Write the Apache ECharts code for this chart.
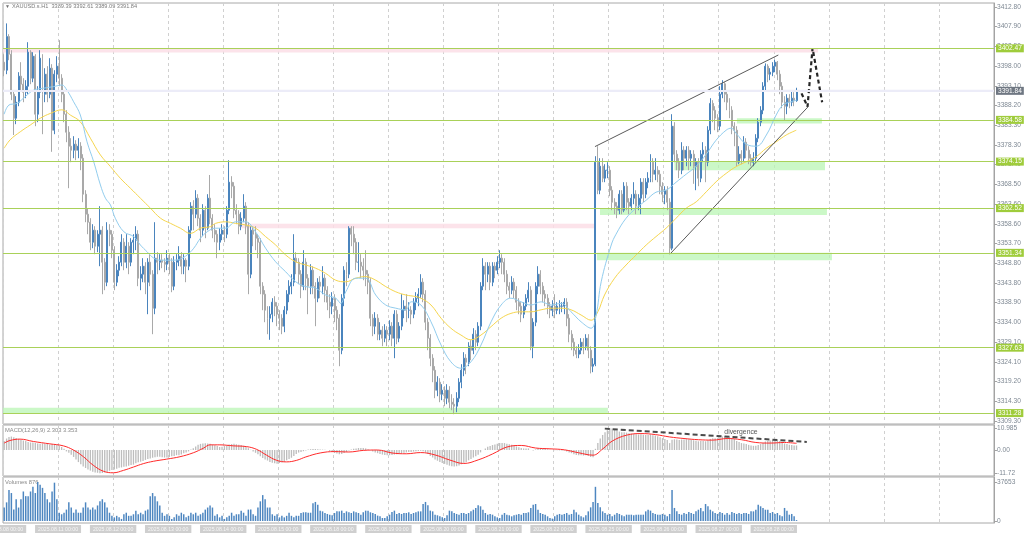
<!DOCTYPE html>
<html><head><meta charset="utf-8">
<script src="https://cdn.jsdelivr.net/npm/echarts@6/dist/echarts.min.js"></script>
<style>html,body{margin:0;padding:0;background:#fff;}#c{width:1024px;height:537px;}</style>
</head><body><div id="c"></div>
<script>
// ---------- DATA ----------
const symbolTitle = 'XAUUSD.s.H1  3389.39 3392.61 3389.09 3391.84';
const macdTitle = 'MACD(12,26,9) 2.303 3.353';
const volumeTitle = 'Volumes 876';
const totalSlots = 414;          // bar slots on the time axis (incl. empty right margin)
const barsPerDay = 23;
const dayLabels = ['2025.08.08 00:00','2025.08.11 00:00','2025.08.12 00:00','2025.08.13 00:00','2025.08.14 00:00','2025.08.15 00:00','2025.08.18 00:00','2025.08.19 00:00','2025.08.20 00:00','2025.08.21 00:00','2025.08.22 00:00','2025.08.25 00:00','2025.08.26 00:00','2025.08.27 00:00','2025.08.28 00:00'];
const priceTicks = ['3309.30','3314.30','3319.20','3324.10','3329.10','3334.00','3338.90','3343.80','3348.80','3353.70','3358.60','3363.60','3368.50','3373.40','3378.30','3383.30','3388.20','3393.10','3398.00','3402.90','3407.90','3412.80'];
const macdTicks = ['-11.72','0.00','10.985'];
const volumeTicks = ['0','37653'];
const levels = [3402.47, 3384.58, 3374.15, 3362.52, 3351.34, 3327.63, 3311.28];
const bidPrice = 3391.84;
// zones: [fromBar, toBar, lowPrice, highPrice]
const greenZones = [[-0.5,252.2,3311.28,3312.6],[247.6,345.8,3349.5,3351.34],[248.9,343.7,3360.8,3362.52],[280,342.9,3372.0,3374.15],[306.1,341.6,3383.7,3385.0]];
const pinkZones = [[-0.5,340,3401.4,3402.47],[99,246.4,3357.5,3358.6]];
const wedgeUpper = [[246.8,3377.9],[323.4,3400.8]];
const wedgeLower = [[278.1,3351.0],[335.9,3387.9]];
const arrowPath = [[333.1,3391.2],[335.6,3387.9],[337.7,3402.5],[341.7,3389.0]];
const divergenceLine = [[250.9,10.8],[335.3,4.1]];
const divergenceText = [[307.8,9.1]];

// candles: [open, close, low, high]
const candles = [
[3399,3397,3395.5,3401],[3397,3405.4,3396,3408.7],[3405.4,3401,3399.5,3406],[3401,3391,3389.5,3402],[3391,3385,3380.8,3392],
[3385,3389,3383.5,3390.5],[3389,3395.5,3388,3396.5],[3395.5,3393.5,3392,3399],[3393.5,3391.5,3389,3395],[3391.5,3393,3390,3394.5],
[3393,3401.5,3391,3404],[3401.5,3395,3393.5,3402],[3395,3400.5,3394,3401.5],[3400.5,3386,3383,3401],[3386,3391.5,3384,3393],
[3391.5,3400,3390,3402],[3400,3391,3381,3401],[3391,3396,3389,3397.5],[3396,3391,3389,3398],[3391,3397.5,3390,3400],
[3397.5,3382,3376.6,3398.5],[3382,3396,3381,3397],[3396,3398,3394,3400.5],[3398,3395,3393,3404.5],[3395,3391,3389,3396],
[3391,3386,3384,3392],[3386,3381.5,3379,3387],[3381.5,3378,3367.5,3383],[3378,3377,3374,3380],[3377,3378.5,3375,3380.5],
[3378.5,3377,3374.5,3379.5],[3377,3378,3375,3380],[3378,3375,3372,3379],[3375,3366,3364,3376],[3366,3361,3359,3367],
[3361,3359,3356,3362.5],[3359,3354,3352,3360],[3354,3357,3352.5,3358.5],[3357,3353,3351,3358],[3353,3356,3351.5,3357],
[3356,3357,3348,3363],[3357,3349,3341,3358],[3349,3344,3342,3350],[3344,3357,3343,3359],[3357,3356,3353,3358.5],
[3356,3352,3350,3357],[3352,3344,3342,3353],[3344,3347,3343,3348.5],[3347,3349,3345.5,3350.5],[3349,3354,3348,3356],
[3354,3349,3347,3355],[3349,3353,3347.5,3356],[3353,3349,3346,3354],[3349,3354,3348,3355],[3354,3354.5,3351,3356],
[3354.5,3356,3352,3358],[3356,3345,3343,3357],[3345,3346,3342,3348],[3346,3348,3344,3350],[3348,3344,3341,3349],
[3344,3349,3336,3350],[3349,3346,3343,3351],[3346,3337.5,3331,3347],[3337.5,3350,3336,3359],[3350,3349,3346,3351.5],
[3349,3349.5,3347,3351],[3349.5,3349,3347.5,3351],[3349,3348.5,3346.5,3350],[3348.5,3350,3347,3352],[3350,3349,3346,3351],
[3349,3343,3341.5,3350],[3343,3349,3342,3350.5],[3349,3349.5,3347,3351],[3349.5,3350.5,3348,3353],[3350.5,3348,3346,3351.5],
[3348,3349.5,3346,3351],[3349.5,3348,3344,3350],[3348,3357,3347,3358],[3357,3363,3355,3364],[3363,3361,3357,3364.5],
[3361,3365,3360,3367],[3365,3360,3358,3366],[3360,3357,3354,3361],[3357,3362,3355.5,3363.5],[3362,3357.5,3355,3363],
[3357.5,3365,3357,3366],[3365,3360,3358.5,3370.8],[3360,3357,3355,3361],[3357,3356,3354,3358.5],[3356,3354,3350,3357],
[3354,3356,3352,3357.5],[3356,3357,3354.5,3358.5],[3357,3356,3354,3358],[3356,3362,3355,3363],[3362,3369,3361,3374.5],
[3369,3368,3365,3370.5],[3368,3362,3360,3369],[3362,3361,3358.5,3363.5],[3361,3358,3356,3362],[3358,3360,3357,3361.5],
[3360,3363,3359,3366],[3363,3358,3356,3364],[3358,3346,3341,3359],[3346,3357,3345,3358],[3357,3356,3353,3358],
[3356,3355,3352,3358],[3355,3354,3350,3356],[3354,3343,3341,3355],[3343,3341,3337,3344],[3341,3337,3334,3342],
[3337,3335,3331,3338],[3335,3336,3329.6,3338],[3336,3339,3334,3340],[3339,3338,3335.5,3340.5],[3338,3336,3333,3339],
[3336,3335,3332,3337],[3335,3333,3331,3336],[3333,3337,3331.5,3338],[3337,3341,3336,3342],[3341,3343,3339,3344.5],
[3343,3344,3341,3346],[3344,3350,3343,3356],[3350,3349,3346,3351.5],[3349,3346,3343.5,3350],[3346,3343,3340,3347],
[3343,3349,3342,3352],[3349,3345,3342,3350],[3345,3343,3336,3346],[3343,3347,3341,3348.5],[3347,3343,3341,3348],
[3343,3340,3333,3344],[3340,3344,3339,3345],[3344,3343,3340,3345.5],[3343,3345,3341,3348],[3345,3342,3339,3346],
[3342,3339,3337,3343],[3339,3338,3335,3341],[3338,3340,3336,3341.5],[3340,3337,3334,3341],[3337,3335,3332,3338],
[3335,3327,3323,3336],[3327,3340,3326,3341],[3340,3347,3338,3348],[3347,3346,3343,3349],[3346,3357.5,3345,3358],
[3357.5,3356,3353,3358],[3356,3354,3351,3358],[3354,3349,3347,3355],[3349,3349,3346.5,3354],[3349,3348,3345,3351],
[3348,3347,3344.5,3350],[3347,3346,3343,3352],[3346,3344,3341,3347],[3344,3335,3333,3345],[3335,3333,3330.5,3336],
[3333,3335,3331,3336.5],[3335,3331,3329.5,3336],[3331,3332,3329.5,3334],[3332,3330,3328,3333],[3330,3332,3329,3333.5],
[3332,3331,3328,3333],[3331,3333,3329.5,3334.5],[3333,3330,3328,3334],[3330,3336,3325,3337],[3336,3330,3328.5,3337],
[3330,3333,3329,3334],[3333,3337,3332,3341],[3337,3338,3335,3339.5],[3338,3337,3334,3341],[3337,3337,3335,3339],
[3337,3336,3333.5,3338],[3336,3339,3335,3340],[3339,3340,3337,3341.5],[3340,3341,3338,3342.5],[3341,3344,3340,3346],
[3344,3341,3339,3345],[3341,3334,3332,3342],[3334,3330,3327,3335],[3330,3325,3323,3331],[3325,3322,3319,3326],
[3322,3317,3315,3323],[3317,3319,3315.5,3320.5],[3319,3316,3314,3320],[3316,3317,3314.5,3318.5],[3317,3315,3313,3318],
[3315,3317,3313.5,3318.5],[3317,3314,3312.5,3318],[3314,3313.5,3312,3316],[3313.5,3313,3311,3315],[3313,3315,3311.5,3316.5],
[3315,3319,3314,3320],[3319,3322,3317.5,3323.5],[3322,3325,3320.5,3326.5],[3325,3324,3321,3326],[3324,3328,3323,3329],
[3328,3327,3324.5,3329.5],[3327,3331,3326,3332.5],[3331,3329,3327,3332],[3329,3333,3328,3334],[3333,3343,3332,3344],
[3343,3348,3342,3350],[3348,3346,3342,3349],[3346,3348,3344,3349],[3348,3344,3342,3349],[3344,3348,3343,3349],
[3348,3347,3345,3349],[3347,3349,3346,3350.5],[3349,3350,3347.5,3352],[3350,3349,3346,3351],[3349,3346,3344,3350],
[3346,3343,3341,3347],[3343,3342,3340,3344],[3342,3344,3341,3345.5],[3344,3342,3340,3345],[3342,3339,3337,3343],
[3339,3338,3336,3340],[3338,3336,3334,3339],[3336,3338,3335,3339],[3338,3340,3337,3341],[3340,3342,3339,3344],
[3342,3328,3327,3343],[3328,3334,3325,3335],[3334,3343,3333,3344],[3343,3346,3341,3348],[3346,3343,3341,3347],
[3343,3341,3339,3344],[3341,3340,3338,3342],[3340,3338,3336,3341],[3338,3337,3335,3339],[3337,3338,3335.5,3339.5],
[3338,3337,3335,3341],[3337,3338,3336,3339],[3338,3338,3336,3339.5],[3338,3338,3336.5,3339],[3338,3339,3336,3340],
[3339,3335,3333,3340],[3335,3331,3329,3336],[3331,3329,3327,3332],[3329,3327,3325.5,3330],[3327,3326,3325,3328],
[3326,3327,3325,3328.5],[3327,3329,3326,3330],[3329,3328,3326,3330],[3328,3330,3327,3331],[3330,3327,3325,3331],
[3327,3323,3321.2,3328],[3323,3323.5,3321.5,3325],[3323.5,3374,3323,3375.5],[3374,3367,3366,3378],[3367,3373,3366,3375],
[3373,3370,3369,3375],[3370,3372,3369,3373.5],[3372,3372,3370,3374],[3372,3367,3365.5,3373],[3367,3364,3362,3368],
[3364,3363,3361,3365],[3363,3362,3360,3364],[3362,3366,3361,3367],[3366,3362,3361,3367],[3362,3368,3361.5,3369],
[3368,3364,3362,3369],[3364,3363,3361,3365],[3363,3365,3362,3366],[3365,3366,3363.5,3369],[3366,3363,3361,3367],
[3363,3365,3362,3366],[3365,3369,3361,3370],[3369,3366,3364,3370],[3366,3369,3365,3370],[3369,3370,3367.5,3371.5],
[3370,3374,3369,3376],[3374,3371,3369,3375],[3371,3372,3369.5,3375],[3372,3371,3369,3373],[3371,3368,3366,3372],
[3368,3366,3364,3369],[3366,3367,3363.5,3368],[3367,3364,3362,3368],[3364,3352.5,3351.2,3365],[3352.5,3383,3352,3386],
[3383,3376,3374,3384],[3376,3374,3372,3377],[3374,3372,3370,3375],[3372,3377,3371,3379],[3377,3375,3372,3378],
[3375,3377,3373,3378],[3377,3375,3372,3378],[3375,3376,3373,3377],[3376,3373,3368.6,3377],[3373,3374,3367,3375],
[3374,3370,3368,3375],[3370,3376,3369,3377],[3376,3377,3374,3379],[3377,3374,3369,3378],[3374,3382,3373,3383],
[3382,3388.7,3381,3390],[3388.7,3387,3384,3389.5],[3387,3385,3382,3388],[3385,3383,3381.5,3386],[3383,3391,3382,3393],
[3391,3393.6,3390,3394.5],[3393.6,3391,3389,3394],[3391,3389,3387,3392],[3389,3387,3385,3390],[3387,3383,3381,3388],
[3383,3382,3378,3384],[3382,3374,3373,3383],[3374,3376,3373.5,3378],[3376,3375,3373.5,3377],[3375,3379,3374,3380.5],
[3379,3377,3375,3380],[3377,3375,3373.5,3378],[3375,3374,3373,3376],[3374,3375,3373,3376.5],[3375,3380,3374,3381],
[3380,3384,3379,3385],[3384,3387,3383,3388],[3387,3393,3386,3394],[3393,3398,3392,3398.7],[3398,3396,3394,3398.5],
[3396,3396.5,3394.5,3397.5],[3396.5,3398,3395.5,3399],[3398,3399,3396.5,3399.6],[3399,3396,3394.5,3399.3],[3396,3393,3391,3397],
[3393,3389,3387.5,3394],[3389,3388,3384.5,3390.5],[3388,3390,3386,3391],[3390,3389,3387.5,3391],[3389,3390,3388,3392],
[3390,3389.4,3388,3391.5],[3389.39,3391.84,3389.09,3392.61]
];

const volumes = [
13000,18000,30000,27000,11000,21000,13000,
21000,28500,24000,24000,28500,33000,27000,37653,35000,32000,27000,21000,18000,28500,37000,21000,8000,6500,8000,
11000,18000,13000,8000,11000,8000,
8000,13000,18000,13000,11000,13000,11000,15000,19000,21000,18000,13000,8000,5000,3500,
5000,3500,2000,6500,
8000,5000,5000,
6500,10000,6500,8000,
6500,10000,11000,24000,27000,24000,19000,15000,8000,5000,6500,5000,
2000,3500,6500,5000,8000,6500,3500,5000,
8000,6500,8000,5000,6500,8000,11000,13000,15000,13000,5000,6500,
3500,5000,2000,3500,
5000,8000,5000,6500,6500,10000,8000,5000,11000,11000,6500,
5000,13000,19000,25000,21000,13000,13000,6500,5000,6500,
3500,5000,3500,5000,8000,5000,3500,5000,5000,
7700,8400,8400,8000,
8000,17100,18400,15800,10000,9300,7700,
6800,6100,5500,7700,9300,9300,10000,
7700,9300,8400,7700,9300,8400,7700,
6100,8400,10000,10000,8400,7700,6800,
5200,4500,2900,2900,4500,6100,8700,10000,
6800,7700,6800,7700,7700,8400,6800,7700,
8400,9300,9300,16400,18400,15100,10000,
9300,6100,5500,4500,3500,2900,5500,
10000,9300,7700,6800,6100,7700,7700,
6800,7700,9300,10900,12600,15100,14200,10900,
7700,6100,6800,6100,4500,3500,2900,
6100,7700,6100,5500,4500,5500,6100,
6800,6100,7700,7700,8400,12600,15800,16400,
10900,7700,6800,6100,4500,2900,2300,
4500,6100,6800,6100,6800,7700,6100,6800,
10900,8400,6100,4500,3500,5500,9300,13200,18400,
33000,
17400,13200,9300,7700,6100,6800,
4500,6100,7700,6800,5500,4500,6100,
6100,6100,5500,6100,6100,6100,
6100,9300,10900,10000,7700,6800,6100,
6100,6800,6100,4500,6800,30000,
12600,9300,6800,6100,7700,
6800,8700,7700,6800,9300,10900,12600,9300,16400,14200,10900,9300,7700,6800,8700,7700,
6100,7700,6100,8700,7700,6800,
7700,6800,7700,7700,6800,9300,
9300,10900,15800,14200,12600,10900,10900,
7700,8700,6800,7700,5500,4500,
12600,10000,6100,6800,
4500,876
];

const macdHist = [
4.5,5.8,6.6,6.8,6.5,6.1,5.6,5.1,4.8,4.5,
4.1,3.8,3.8,3.6,3.3,3.1,3.3,3.2,3.0,2.7,
2.9,3.0,2.6,2.2,1.5,0.6,-0.7,-1.4,-2.4,-3.5,
-4.8,-6.1,-7.2,-8.3,-9.1,-9.8,-10.4,-11.0,-11.3,-11.5,
-11.72,-11.6,-11.4,-11.0,-10.5,-10.1,-9.9,-9.5,-9.0,-8.8,
-8.5,-8.3,-7.9,-7.6,-7.4,-6.7,-6.2,-5.9,-5.5,-5.0,
-4.6,-4.3,-3.9,-3.6,-3.4,-3.4,-3.7,-3.8,-3.8,-3.5,
-3.2,-3.0,-2.6,-2.6,-2.3,-1.6,-1.3,-0.7,0.2,0.9,
1.8,2.6,3.1,3.3,3.4,3.3,3.1,2.8,2.4,2.0,
1.5,1.6,2.0,2.4,2.8,3.0,3.1,2.9,2.7,2.5,
2.1,1.6,0.9,0.1,-0.7,-1.4,-2.2,-3.2,-4.0,-4.8,
-5.3,-6.0,-6.4,-6.7,-6.9,-6.6,-6.3,-5.9,-5.2,-4.6,
-3.9,-3.0,-2.0,-1.3,
-1.0,-0.6,-0.2,0.2,0.4,0.5,0.5,0.4,0.3,0.2,
0.1,0,-0.5,-1.0,-1.5,-1.8,-2.2,-2.0,-1.5,-1.0,
-0.3,0.2,0.6,0.8,1.0,1.0,1.0,0.8,0.4,-0.2,
-0.8,-1.2,-1.6,-2.0,-2.3,-2.5,-2.6,-2.6,-2.5,-2.3,
-2.2,-2.0,-1.7,-1.4,-1.2,-1.0,-1.0,-0.8,-0.6,-0.5,
-0.4,-0.6,-1.2,-2.0,-3.0,-3.8,-4.8,-5.4,-6.0,-6.6,
-7.0,-7.5,-7.9,-8.2,-8.3,-8.2,-7.8,-7.2,-6.5,-6.0,
-5.2,-4.6,-3.8,-3.2,-2.4,-1.2,0,0.8,1.6,2.0,
2.5,2.8,3.2,3.5,3.6,3.5,3.2,2.9,2.6,2.2,
1.8,1.4,1.0,0.8,0.7,0.8,0,-0.3,0.3,0.8,
0.9,0.8,0.6,0.3,0.1,0,-0.1,-0.1,-0.2,-0.3,
-0.3,-0.7,-1.2,-1.6,-2.1,-2.5,-2.7,-2.7,-2.8,-2.7,
-3.0,-3.5,-3.6,0.6,3.5,5.8,7.6,9.0,10.0,10.985,
10.8,10.2,9.8,9.3,9.0,9.0,8.8,8.5,8.3,8.2,
7.9,7.8,7.9,7.7,7.6,7.6,7.8,7.5,7.3,7.0,
6.5,6.0,5.6,5.1,3.5,5.2,5.4,5.3,5.1,5.3,
5.3,5.4,5.3,5.2,4.9,4.7,4.4,4.5,4.6,4.4,
4.9,5.6,5.9,6.0,6.0,6.4,6.8,6.9,6.8,6.5,
6.0,5.5,4.6,4.0,3.5,3.3,3.0,2.6,2.3,2.1,
2.2,2.5,3.0,3.6,4.3,4.6,4.8,5.0,5.1,4.9,
4.5,3.9,3.3,3.0,2.7,2.5,2.3,2.303
];

// signal line samples: [bar, value]
const macdSignal = [[0,3.5],[2.4,4.8],[6.6,5.5],[12.2,4.3],[19.1,3.1],[24.7,2.1],[28.9,0],[33.1,-3.4],[37.2,-7.7],[41.4,-10.7],[45.6,-11.5],[49.8,-10.3],[54,-8.6],[58.1,-6.9],[62.3,-5.7],[67.9,-4.6],[73.4,-3.4],[79,-1.4],[83.2,0.9],[86,2.6],[90.1,2.6],[95.7,2.1],[101.3,1.7],[105.5,0.3],[109.6,-2.6],[113.8,-5.2],[118,-6],[122.2,-5.2],[126,-3.5],[132,-1.5],[138,-0.8],[144,-1.0],[150,-0.2],[156,0],[162,-1.5],[168,-1.9],[174,-1.3],[180,-2.5],[186,-5],[192,-6.8],[198,-5.0],[204,-2.0],[210,1.5],[216,2.3],[222,1.0],[228,0.6],[234,0.1],[240,-1.4],[246,-2.6],[250,0.5],[254,4.5],[260,7.5],[266,8.3],[272,7.8],[278,6.6],[284,5.8],[290,5.2],[296,5.0],[302,5.8],[308,5.2],[314,3.8],[320,3.5],[326,3.8],[331,3.353]];

// moving averages samples: [bar, price]
const maFast = [[0,3386],[2,3388.3],[5.3,3388.7],[8.8,3390.4],[12.3,3392],[16.5,3392.5],[20.6,3392.9],[24.1,3393.3],[26.2,3392],[29,3389.1],[31.8,3385.8],[34.6,3379.1],[37.4,3374.1],[40.2,3368.3],[42.3,3365],[44.4,3363.3],[46.4,3360],[50,3356.6],[54.1,3355.4],[56.9,3353.3],[59.7,3351.6],[62.5,3350],[65.3,3349.5],[68,3349.5],[70.8,3349.5],[73.6,3349.8],[76.4,3350.8],[79.2,3352.5],[82,3355],[84.8,3356.6],[88.3,3357.5],[92.5,3357.5],[96.7,3359.1],[100.8,3359.1],[105,3356.6],[109.2,3352.5],[113.4,3349.1],[117.6,3346.6],[121.8,3344.1],[126,3342.9],[130.1,3342.5],[134.3,3340.8],[138.5,3340],[140.6,3338.7],[142.7,3341.6],[146.9,3345],[151,3345],[155.2,3340.8],[159.4,3338.3],[163.6,3337.5],[167.8,3337.1],[170,3339.1],[174.1,3338.3],[178.3,3334.1],[182.5,3328.3],[186.6,3324.1],[190.8,3322.5],[195,3324.1],[199.2,3328.3],[203.4,3334.1],[207.6,3338.3],[211.7,3340],[215.9,3339.1],[220.1,3338.3],[224.3,3339.1],[228.5,3338.3],[232.7,3338.7],[236.8,3336.6],[241,3334.1],[245.2,3332.5],[247.3,3335.8],[249.4,3344.1],[253.6,3353.3],[255.6,3356],[259.8,3360],[264,3362.5],[268.2,3364.5],[272.3,3366.5],[276.5,3367],[280.7,3369],[284.9,3371],[289.1,3373],[293.3,3376],[297.4,3379.5],[301.6,3382],[303.7,3382.5],[305.8,3381.2],[310,3378.5],[314.2,3378],[318.4,3380.8],[322.5,3385.8],[325.3,3388.3],[328.1,3389],[331,3389.5]];
const maSlow = [[0,3377.5],[2.5,3379.6],[6.7,3381.6],[10.9,3383.3],[15.1,3385],[19.3,3386.2],[24.1,3387.1],[27.6,3385.8],[31.8,3384.1],[36,3380],[40.2,3375.8],[44.4,3372.9],[48.5,3370],[52.7,3367.5],[56.9,3365],[61.1,3362.5],[65.3,3360],[69.5,3358.7],[73.6,3357.5],[77.8,3356.2],[82,3357.5],[86.2,3357.9],[88.3,3358.7],[92.5,3359.1],[96.7,3358.7],[100.8,3358.3],[105,3357.5],[109.2,3355.4],[113.4,3353.3],[117.6,3350.8],[121.8,3349.1],[126,3348.3],[130.1,3347.5],[134.3,3346.2],[138.5,3344.5],[142.7,3344.1],[146.9,3345],[151,3345.4],[155.2,3344.5],[159.4,3342.9],[163.6,3341.6],[167.8,3340.8],[172,3340.4],[174.1,3340],[178.3,3338.3],[182.5,3335],[186.6,3332.5],[190.8,3330.8],[195,3329.6],[199.2,3330.8],[203.4,3332.9],[207.6,3335],[211.7,3336.2],[215.9,3336.6],[220.1,3336.6],[224.3,3337.1],[228.5,3337.5],[232.7,3337.5],[236.8,3337.1],[241,3335.8],[245.2,3334.5],[248,3336.6],[250.8,3340.8],[255,3345],[259.8,3348.3],[264,3350.8],[268.2,3353.3],[272.3,3355.4],[276.5,3357.5],[280.7,3360],[284.9,3362.5],[289.1,3364.1],[293.3,3366.6],[297.4,3369.1],[301.6,3371.2],[305.8,3372.9],[310,3374.1],[314.2,3375.4],[318.4,3377.5],[322.5,3379.1],[326.7,3380.8],[330.9,3382]];

// ---------- CHART ----------
const FONT = 'Liberation Sans';
const axisGray = '#a3a3a3';
const labelGray = '#7e8893';
const levelGreen = '#a9d159';
const sep = {show:true, lineStyle:{color:'#d0d0d0', type:[3,3], width:1}};
const cats = Array.from({length: totalSlots}, (_, i) => i);
const xMin = -0.5, xMax = totalSlots - 0.5;

function catAxis(g){ return {type:'category', gridIndex:g, data:cats, show:false, position:'top'}; }
function valAxis(g, labels){
  return {type:'value', gridIndex:g, position:'bottom', min:xMin, max:xMax, interval:barsPerDay,
    axisLine:{show:false, onZero:false}, axisTick:{show:false}, splitLine:sep,
    axisLabel: labels ? {show:true, interval:0, showMinLabel:true, showMaxLabel:false, margin:2, hideOverlap:false,
      formatter:v => { const t = dayLabels[Math.round((v - xMin)/barsPerDay)]; return t ? '{d|' + t + '}' : ''; },
      rich:{d:{fontFamily:FONT, fontSize:5.2, color:'#f6f6f6', backgroundColor:'#cfcfcf', padding:[2,3,1,3]}}} : {show:false}};
}
function yRight(g, min, max, ticks){
  const vals = ticks.map(Number);
  return {type:'value', gridIndex:g, position:'right', min:min, max:max,
    axisLine:{show:true, onZero:false, lineStyle:{color:axisGray}},
    axisTick:{show:true, length:3, customValues:vals, lineStyle:{color:axisGray}},
    axisLabel:{show:true, customValues:vals, margin:3, fontFamily:FONT, fontSize:6.6, color:labelGray,
      formatter:v => { const i = vals.findIndex(t => Math.abs(t - v) < 1e-6); return i >= 0 ? ticks[i] : ''; }},
    splitLine:{show:false}};
}

const levelMarks = levels.map(v => ({yAxis:v, lineStyle:{color:levelGreen, width:1, type:'solid'},
  label:{show:true, position:'end', distance:2, formatter:v.toFixed(2), color:'#ffffff', backgroundColor:'#9fcc3b',
    fontFamily:FONT, fontSize:6.6, padding:[1,2,0,2]}}));
levelMarks.push({yAxis:bidPrice, lineStyle:{color:'#ececf8', width:2, type:'solid'},
  label:{show:true, position:'end', distance:2, formatter:bidPrice.toFixed(2), color:'#ffffff', backgroundColor:'#6f7782',
    fontFamily:FONT, fontSize:6.6, padding:[1,2,0,2]}});

const zoneData = greenZones.map(z => [{coord:[z[0], z[2]], itemStyle:{color:'rgba(186,246,180,0.75)'}}, {coord:[z[1], z[3]]}])
  .concat(pinkZones.map(z => [{coord:[z[0], z[2]], itemStyle:{color:'rgba(252,222,230,0.85)'}}, {coord:[z[1], z[3]]}]));

const gridBase = {left:3, width:991, show:true, borderColor:'#a8a8a8', borderWidth:1, backgroundColor:'#ffffff',
  containLabel:false, outerBoundsMode:'none'};
const option = {
  animation:false,
  backgroundColor:'#ffffff',
  grid:[
    Object.assign({top:3, height:421}, gridBase),
    Object.assign({top:425, height:51}, gridBase),
    Object.assign({top:477, height:46}, gridBase)
  ],
  xAxis:[catAxis(0), valAxis(0,false), catAxis(1), valAxis(1,false), catAxis(2), valAxis(2,true)],
  yAxis:[
    yRight(0, 3308.55, 3413.8, priceTicks),
    yRight(1, -13.13, 12.63, macdTicks),
    yRight(2, -1931, 42480, volumeTicks)
  ],
  graphic:[
    {type:'text', left:5, top:4, style:{text:'▼', fill:'#707070', font:'5px '+FONT}},
    {type:'text', left:12, top:3, style:{text:symbolTitle, fill:'#7a7a7a', font:'5.6px '+FONT}},
    {type:'text', left:5, top:427, style:{text:macdTitle, fill:'#8a8a8a', font:'5.8px '+FONT}},
    {type:'text', left:5, top:479, style:{text:volumeTitle, fill:'#8a8a8a', font:'5.8px '+FONT}}
  ],
  series:[
    {name:'levels', type:'line', xAxisIndex:1, yAxisIndex:0, data:[[xMin,bidPrice],[xMax,bidPrice]], z:1,
      symbol:'none', lineStyle:{color:'#ececf8', width:2}, silent:true,
      markArea:{silent:true, data:zoneData},
      markLine:{silent:true, symbol:'none', animation:false, data:levelMarks}},
    {name:'price', type:'candlestick', xAxisIndex:0, yAxisIndex:0, data:candles, z:2, barWidth:'62%',
      itemStyle:{color:'#4a84bd', color0:'#a9a9a9', borderColor:'#4a84bd', borderColor0:'#a9a9a9', borderWidth:1}},
    {name:'maSlow', type:'line', xAxisIndex:1, yAxisIndex:0, data:maSlow, smooth:0.4, symbol:'none', z:3,
      lineStyle:{color:'#f6d64e', width:1}},
    {name:'maFast', type:'line', xAxisIndex:1, yAxisIndex:0, data:maFast, smooth:0.4, symbol:'none', z:3,
      lineStyle:{color:'#92cdee', width:1}},
    {name:'wedgeUpper', type:'line', xAxisIndex:1, yAxisIndex:0, data:wedgeUpper, symbol:'none', z:4,
      lineStyle:{color:'#5a5a5a', width:1}},
    {name:'wedgeLower', type:'line', xAxisIndex:1, yAxisIndex:0, data:wedgeLower, symbol:'none', z:4,
      lineStyle:{color:'#5a5a5a', width:1}},
    {name:'arrow', type:'line', xAxisIndex:1, yAxisIndex:0, data:arrowPath, symbol:'none', z:4, clip:false,
      lineStyle:{color:'#262626', width:2.2, type:[4,3]}},
    {name:'MACD', type:'bar', xAxisIndex:2, yAxisIndex:1, data:macdHist, barWidth:'55%',
      itemStyle:{color:'#bdbdbd'}},
    {name:'signal', type:'line', xAxisIndex:3, yAxisIndex:1, data:macdSignal, smooth:0.4, symbol:'none', z:3,
      lineStyle:{color:'#ff2a2a', width:1}},
    {name:'divergence', type:'line', xAxisIndex:3, yAxisIndex:1, data:divergenceLine, symbol:'none', z:4,
      lineStyle:{color:'#4a4a4a', width:2, type:[5,3]}},
    {name:'divText', type:'scatter', xAxisIndex:3, yAxisIndex:1, data:divergenceText, symbolSize:0, z:5,
      label:{show:true, position:'inside', formatter:'divergence', color:'#2a2a2a', fontFamily:FONT, fontSize:6.8}},
    {name:'Volumes', type:'bar', xAxisIndex:4, yAxisIndex:2, data:volumes, barWidth:'62%',
      itemStyle:{color:'#4d86c0'}}
  ]
};
const chart = echarts.init(document.getElementById('c'), null, {renderer:'canvas'});
chart.setOption(option);
</script>
</body></html>
